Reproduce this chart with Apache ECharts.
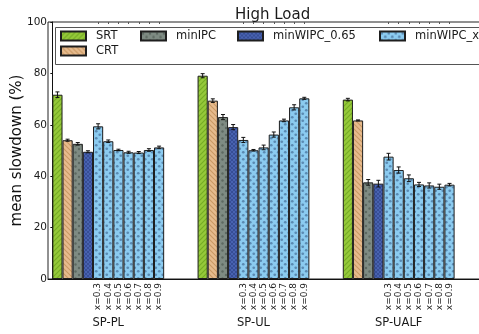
<!DOCTYPE html>
<html>
<head>
<meta charset="utf-8">
<script src="https://cdn.jsdelivr.net/npm/echarts@6/dist/echarts.min.js"></script>
<style>
  html, body { margin: 0; padding: 0; background: #fff; }
  #chart { width: 479px; height: 334px; }
</style>
</head>
<body>
<div id="chart"></div>
<script>
// Workload groups and the x settings of minWIPC_x
const groups = ['SP-PL', 'SP-UL', 'SP-UALF'];
const xLevels = ['x=0.3', 'x=0.4', 'x=0.5', 'x=0.6', 'x=0.7', 'x=0.8', 'x=0.9'];
const yTicks = [0, 20, 40, 60, 80, 100];

// Mean slowdown (%) per group, with error half-widths
const srt = [71.7, 79.1, 69.8];
const srtErr = [1.1, 0.8, 0.5];
const crt = [54.0, 69.4, 61.7];
const crtErr = [0.4, 0.7, 0.2];
const minIPC = [52.6, 63.0, 37.6];
const minIPCErr = [0.5, 1.0, 1.1];
const minWIPC065 = [49.5, 59.1, 37.1];
const minWIPC065Err = [0.4, 1.0, 1.3];
const minWIPCx = [
  [59.4, 53.6, 50.2, 49.3, 49.2, 50.2, 51.2],
  [54.1, 50.1, 51.2, 56.2, 61.7, 66.8, 70.3],
  [47.6, 42.4, 39.2, 36.8, 36.4, 35.9, 36.7]
];
const minWIPCxErr = [
  [1.0, 0.5, 0.3, 0.4, 0.4, 0.5, 0.5],
  [1.0, 0.3, 0.9, 1.0, 0.5, 1.0, 0.4],
  [1.3, 1.2, 1.3, 0.8, 1.0, 1.0, 0.5]
];

// Bar layout in data units: each group sits at an integer, bars are 0.07 wide
const BAR = 0.07;
const slot = (g, j) => g + BAR * (j + 0.5);

// Hatch / dot fills
function pattern(size, bg, draw) {
  const c = document.createElement('canvas');
  c.width = c.height = size;
  const ctx = c.getContext('2d');
  ctx.fillStyle = bg;
  ctx.fillRect(0, 0, size, size);
  draw(ctx, size);
  return { image: c, repeat: 'repeat' };
}
function diag(dir) {
  return (ctx, s) => {
    ctx.lineWidth = 1.1;
    const segs = dir > 0
      ? [[0, s, s, 0], [-s, s, s, -s], [0, 2 * s, 2 * s, 0]]
      : [[0, 0, s, s], [-s, 0, s, 2 * s], [0, -s, 2 * s, s]];
    segs.forEach(([a, b, c2, d]) => { ctx.beginPath(); ctx.moveTo(a, b); ctx.lineTo(c2, d); ctx.stroke(); });
  };
}
function dots(r, pts) {
  return (ctx) => {
    pts.forEach(([x, y]) => { ctx.beginPath(); ctx.arc(x, y, r, 0, Math.PI * 2); ctx.fill(); });
  };
}
const fills = {
  SRT: pattern(5, '#95c93a', (ctx, s) => { ctx.strokeStyle = '#74ab25'; diag(1)(ctx, s); }),
  CRT: pattern(5, '#e6bb8e', (ctx, s) => { ctx.strokeStyle = '#c89863'; diag(-1)(ctx, s); }),
  minIPC: pattern(7, '#7e8b83', (ctx) => { ctx.fillStyle = '#5d6962'; dots(1.2, [[2, 2], [5.5, 5.5]])(ctx); }),
  w065: pattern(4, '#4862b0', (ctx) => {
    ctx.strokeStyle = '#34498f'; ctx.lineWidth = 0.8;
    ctx.beginPath(); ctx.moveTo(0, 4); ctx.lineTo(4, 0); ctx.moveTo(0, 0); ctx.lineTo(4, 4); ctx.stroke();
  }),
  wx: pattern(7, '#8bcbf0', (ctx) => { ctx.fillStyle = '#5a8ab2'; dots(1.35, [[1.75, 1.75], [5.25, 5.25]])(ctx); })
};

// Data in axis units
const srtData = srt.map((v, g) => [slot(g, 0), v]);
const crtData = crt.map((v, g) => [slot(g, 1), v]);
const ipcData = minIPC.map((v, g) => [slot(g, 2), v]);
const w065Data = minWIPC065.map((v, g) => [slot(g, 3), v]);
const wxData = [];
minWIPCx.forEach((row, g) => row.forEach((v, j) => wxData.push([slot(g, 4 + j), v])));

const errData = [];
srt.forEach((v, g) => errData.push([slot(g, 0), v, srtErr[g]]));
crt.forEach((v, g) => errData.push([slot(g, 1), v, crtErr[g]]));
minIPC.forEach((v, g) => errData.push([slot(g, 2), v, minIPCErr[g]]));
minWIPC065.forEach((v, g) => errData.push([slot(g, 3), v, minWIPC065Err[g]]));
minWIPCx.forEach((row, g) => row.forEach((v, j) => errData.push([slot(g, 4 + j), v, minWIPCxErr[g][j]])));

// Tick positions along x
const levelPos = [], levelText = [];
groups.forEach((_, g) => xLevels.forEach((t, j) => { levelPos.push(slot(g, 4 + j)); levelText.push(t); }));
const groupPos = groups.map((_, g) => g + BAR * 11 / 2);
const nearest = (v, pos, txt) => {
  let best = 0;
  pos.forEach((p, i) => { if (Math.abs(p - v) < Math.abs(pos[best] - v)) best = i; });
  return txt[best];
};

const FONT = 'DejaVu Sans';
const barBase = {
  type: 'bar', xAxisIndex: 0, yAxisIndex: 0,
  barWidth: '100%', barGap: '-100%',
  itemStyle: { borderColor: '#1e1e1e', borderWidth: 1 },
  emphasis: { disabled: true }, animation: false
};
function barSeries(name, data, fill) {
  return Object.assign({}, barBase, { name, data, itemStyle: Object.assign({}, barBase.itemStyle, { color: fill }) });
}

const legendBase = {
  icon: 'rect', itemWidth: 25, itemHeight: 9, padding: 0, top: 30,
  textStyle: { fontFamily: FONT, fontSize: 11.5, color: '#1a1a1a', padding: [0, 0, 0, 5] },
  selectedMode: false
};

const chart = echarts.init(document.getElementById('chart'), null, { renderer: 'canvas' });
chart.setOption({
  animation: false,
  textStyle: { fontFamily: FONT },
  title: {
    text: 'High Load', left: 230, top: 3,
    textStyle: { fontFamily: FONT, fontSize: 15, fontWeight: 'normal', color: '#1a1a1a' }
  },
  graphic: [{
    type: 'rect', z: 3, silent: true,
    shape: { x: 55.5, y: 27.5, width: 440, height: 37 },
    style: { fill: '#fff', stroke: '#555', lineWidth: 1 }
  }],
  legend: [
    Object.assign({}, legendBase, { data: ['SRT', 'CRT'], orient: 'vertical', left: 60, itemGap: 3 }),
    Object.assign({}, legendBase, { data: ['minIPC'], left: 140 }),
    Object.assign({}, legendBase, { data: ['minWIPC_0.65'], left: 237 }),
    Object.assign({}, legendBase, { data: ['minWIPC_x'], left: 379 })
  ],
  grid: {
    left: 48, top: 22, width: 440, height: 257,
    outerBoundsMode: 'none', containLabel: false,
    show: true, borderColor: '#222', borderWidth: 1, backgroundColor: 'transparent'
  },
  xAxis: [
    {
      type: 'value', min: -0.03, max: 3.0, position: 'bottom',
      axisLine: { show: true, onZero: false, lineStyle: { color: '#111', width: 1 } },
      axisTick: { show: false },
      splitLine: { show: false },
      axisLabel: {
        customValues: levelPos, rotate: 90, margin: 4,
        fontSize: 9, color: '#1a1a1a', fontFamily: FONT,
        formatter: (v) => nearest(v, levelPos, levelText)
      }
    },
    {
      type: 'value', min: -0.03, max: 3.0, position: 'bottom', offset: 30,
      axisLine: { show: false }, axisTick: { show: false }, splitLine: { show: false },
      axisLabel: {
        customValues: groupPos, margin: 8,
        fontSize: 11.5, color: '#1a1a1a', fontFamily: FONT,
        formatter: (v) => nearest(v, groupPos, groups)
      }
    },
    {
      type: 'value', min: -0.03, max: 3.0, position: 'top',
      axisLine: { show: false }, splitLine: { show: false },
      axisTick: { show: true, inside: true, length: 2, customValues: levelPos.concat(groupPos), lineStyle: { color: '#555' } },
      axisLabel: { show: false }
    }
  ],
  yAxis: {
    type: 'value', min: 0, max: 100, interval: 20,
    axisLine: { show: true, lineStyle: { color: '#111', width: 1 } },
    axisTick: { show: true, length: 2, lineStyle: { color: '#111' } },
    splitLine: { show: false },
    axisLabel: {
      margin: 1, fontSize: 10.5, color: '#1a1a1a', fontFamily: FONT,
      customValues: yTicks
    },
    name: 'mean slowdown (%)', nameLocation: 'middle', nameGap: 23, nameRotate: 90,
    nameMoveOverlap: false,
    nameTextStyle: { fontFamily: FONT, fontSize: 15, color: '#111' }
  },
  series: [
    barSeries('SRT', srtData, fills.SRT),
    barSeries('CRT', crtData, fills.CRT),
    barSeries('minIPC', ipcData, fills.minIPC),
    barSeries('minWIPC_0.65', w065Data, fills.w065),
    barSeries('minWIPC_x', wxData, fills.wx),
    {
      type: 'custom', xAxisIndex: 0, yAxisIndex: 0, z: 10, silent: true,
      data: errData,
      renderItem: (params, api) => {
        const x = api.value(0), y = api.value(1), e = api.value(2);
        const top = api.coord([x, y + e]);
        const bot = api.coord([x, y - e]);
        const cap = 2;
        const st = { stroke: '#111', lineWidth: 1 };
        return {
          type: 'group',
          children: [
            { type: 'line', shape: { x1: top[0], y1: top[1], x2: bot[0], y2: bot[1] }, style: st },
            { type: 'line', shape: { x1: top[0] - cap, y1: top[1], x2: top[0] + cap, y2: top[1] }, style: st },
            { type: 'line', shape: { x1: bot[0] - cap, y1: bot[1], x2: bot[0] + cap, y2: bot[1] }, style: st }
          ]
        };
      }
    }
  ]
});
</script>
</body>
</html>
